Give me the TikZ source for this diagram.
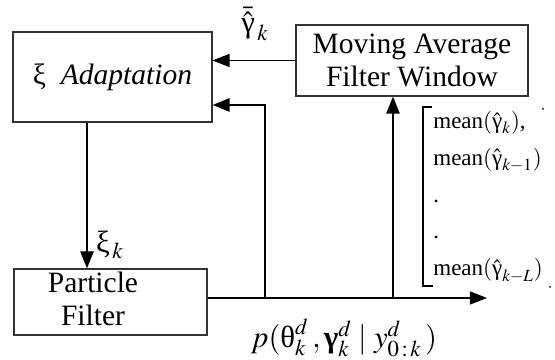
\documentclass[tikz,border=0pt]{standalone}
\usepackage{amsmath}
\usepackage{bm}
\usepackage{mathptmx}
\usepackage[no-math]{fontspec}
\setmainfont{Liberation Serif}
\usepackage{tikz}
\usetikzlibrary{arrows.meta,positioning,calc}

% upright greek taken from the text font
\newcommand{\ugam}{\textnormal{γ}}
\newcommand{\uxi}{\textnormal{ξ}}
\newcommand{\utheta}{\textnormal{θ}}

\tikzset{
  blk/.style={draw=black!80, line width=0.6pt, inner sep=0pt, align=center,
    font=\fontsize{16.8}{18.5}\selectfont},
  txt/.style={inner sep=0pt, font=\fontsize{17.5}{19}\selectfont},
  thinln/.style={line width=0.6pt},
  thickln/.style={line width=1.4pt},
  tip/.style={-{Triangle[length=0.34cm,width=0.26cm]}}
}

\begin{document}
\begin{tikzpicture}
\useasboundingbox (0,0) rectangle (11.1,7.2);
% blocks
\node[blk, minimum width=3.98cm, minimum height=1.8cm] (adapt) at (2.25,5.66) {\uxi\ \ \textit{Adaptation}};
\node[blk, minimum width=4.64cm, minimum height=1.42cm] (mavg) at (8.24,5.99) {Moving Average\\Filter Window};
\node[blk, minimum width=3.86cm, minimum height=1.32cm] (pf) at (2.21,1.16) {};
\node[blk, draw=none] (pftext) at (1.86,1.22) {Particle\\Filter};

% taps on the output line
\coordinate (out) at (9.74,1.24);
\coordinate (tap1) at (5.3,1.24);
\coordinate (tap2) at (7.86,1.24);

% connectors
\draw[thinln, tip] (pf.east |- out) -- (out);
\draw[thinln, tip] (mavg.west) -- (mavg.west -| adapt.east);
\draw[thickln, tip] (tap1) |- ([yshift=-0.56cm]adapt.east);
\draw[thickln, tip] (tap2) -- (tap2 |- mavg.south);
\draw[thickln, tip] ([xshift=-0.51cm]adapt.south) -- ([xshift=-0.51cm]adapt.south |- pf.north);

% labels
\node[txt] (gbar) at (5.1,6.72) {$\bar{\hat{\ugam}}_{\,k}$};
\node[txt] (xik) at (2.2,2.3) {$\uxi_{\,k}$};
\node[txt] (post) at (6.88,0.44) {$p(\utheta_k^d\,,\textbf{γ}_k^d\mid y_{0\,:\,k}^d\,)$};

% window contents
\node[inner sep=0pt, anchor=west, align=left, font=\fontsize{13.1}{21}\selectfont] (means) at (8.66,3.26)
  {mean$(\hat{\ugam}_k)$,\\ mean$(\hat{\ugam}_{k-1})$\\ .\\ .\\ mean$(\hat{\ugam}_{k-L})$};
\draw[thinln] (8.64,5.06) -- (8.46,5.06) -- (8.46,1.48) -- (8.66,1.48);
\fill (10.86,5.02) circle (0.02);
\fill (11.0,1.46) circle (0.02);
\end{tikzpicture}
\end{document}
